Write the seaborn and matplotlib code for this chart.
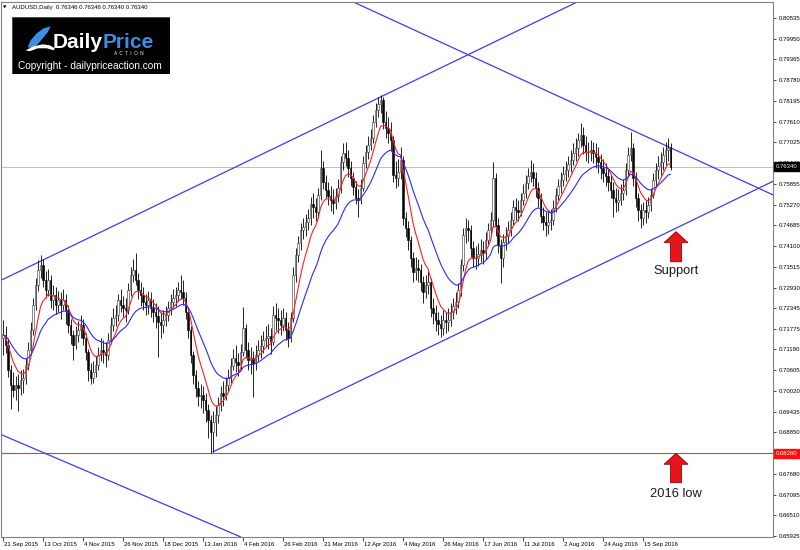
import numpy as np
import pandas as pd
import matplotlib
matplotlib.use("Agg")
import matplotlib.pyplot as plt
import matplotlib.transforms as mtransforms
from matplotlib.patches import Polygon, Rectangle
import seaborn as sns

# ---------------- data (prices in pips, /10000) ----------------
first_open_pips = 7150
closes_pips = [
    7160, 7132, 7062, 7019, 7005, 7019, 7011, 7033, 7039, 7076,
    7118, 7174, 7245, 7301, 7344, 7358, 7315, 7287, 7315, 7259,
    7273, 7245, 7259, 7245, 7259, 7231, 7188, 7160, 7132, 7160,
    7174, 7188, 7152, 7112, 7062, 7039, 7056, 7076, 7104, 7118,
    7112, 7104, 7146, 7188, 7208, 7217, 7259, 7245, 7236, 7231,
    7287, 7330, 7344, 7315, 7287, 7273, 7253, 7245, 7259, 7236,
    7225, 7214, 7197, 7188, 7203, 7217, 7236, 7253, 7265, 7273,
    7287, 7282, 7265, 7225, 7174, 7104, 7048, 7011, 6988, 6991,
    6977, 6949, 6921, 6887, 6915, 6935, 6963, 6997, 6988, 7019,
    7039, 7073, 7095, 7084, 7076, 7112, 7180, 7118, 7090, 7095,
    7081, 7104, 7118, 7129, 7146, 7152, 7158, 7141, 7217, 7208,
    7203, 7188, 7208, 7174, 7152, 7208, 7330, 7386, 7420, 7456,
    7465, 7479, 7490, 7530, 7521, 7507, 7555, 7631, 7592, 7569,
    7552, 7541, 7532, 7552, 7575, 7648, 7673, 7659, 7631, 7603,
    7578, 7547, 7541, 7575, 7645, 7676, 7696, 7716, 7761, 7795,
    7812, 7823, 7761, 7744, 7730, 7710, 7612, 7603, 7620, 7654,
    7490, 7462, 7428, 7377, 7338, 7349, 7344, 7310, 7282, 7301,
    7310, 7236, 7222, 7203, 7191, 7180, 7203, 7197, 7203, 7225,
    7242, 7253, 7287, 7358, 7442, 7462, 7456, 7406, 7377, 7377,
    7389, 7400, 7391, 7428, 7456, 7485, 7603, 7470, 7414, 7377,
    7423, 7440, 7456, 7485, 7521, 7513, 7507, 7541, 7561, 7589,
    7609, 7620, 7603, 7575, 7547, 7496, 7479, 7470, 7479, 7485,
    7518, 7555, 7580, 7597, 7614, 7626, 7642, 7654, 7673, 7688,
    7710, 7724, 7696, 7676, 7676, 7682, 7673, 7662, 7648, 7631,
    7617, 7609, 7592, 7569, 7547, 7535, 7541, 7561, 7569, 7626,
    7668, 7688, 7603, 7547, 7513, 7490, 7513, 7507, 7527, 7555,
    7597, 7626, 7637, 7648, 7668, 7682, 7688, 7634]
highs_pips = [
    7203, 7185, 7150, 7075, 7055, 7045, 7050, 7060, 7065, 7095,
    7140, 7195, 7265, 7320, 7370, 7386, 7375, 7340, 7345, 7330,
    7300, 7295, 7285, 7280, 7290, 7275, 7245, 7205, 7175, 7185,
    7200, 7215, 7205, 7165, 7120, 7080, 7085, 7100, 7125, 7150,
    7145, 7140, 7165, 7210, 7235, 7245, 7275, 7290, 7270, 7265,
    7305, 7350, 7375, 7392, 7335, 7310, 7295, 7275, 7285, 7280,
    7260, 7250, 7240, 7225, 7230, 7240, 7255, 7275, 7290, 7295,
    7310, 7330, 7315, 7280, 7235, 7185, 7115, 7060, 7030, 7020,
    7015, 6995, 6965, 6935, 6945, 6960, 6985, 7015, 7030, 7040,
    7065, 7095, 7120, 7130, 7110, 7135, 7239, 7190, 7140, 7125,
    7115, 7130, 7145, 7160, 7170, 7185, 7190, 7180, 7240, 7250,
    7235, 7230, 7235, 7225, 7195, 7225, 7350, 7405, 7440, 7475,
    7490, 7500, 7515, 7550, 7560, 7545, 7575, 7682, 7650, 7610,
    7590, 7580, 7570, 7575, 7600, 7665, 7700, 7705, 7680, 7650,
    7620, 7595, 7570, 7600, 7665, 7695, 7720, 7740, 7780, 7815,
    7830, 7837, 7830, 7790, 7775, 7760, 7720, 7650, 7655, 7690,
    7665, 7505, 7480, 7440, 7395, 7380, 7375, 7360, 7325, 7330,
    7340, 7320, 7265, 7245, 7225, 7215, 7230, 7225, 7235, 7250,
    7265, 7280, 7305, 7375, 7460, 7490, 7485, 7470, 7425, 7410,
    7420, 7430, 7425, 7450, 7475, 7505, 7648, 7615, 7490, 7430,
    7445, 7465, 7480, 7505, 7540, 7545, 7540, 7560, 7585, 7610,
    7630, 7654, 7645, 7620, 7590, 7560, 7520, 7505, 7510, 7515,
    7540, 7575, 7600, 7620, 7635, 7650, 7665, 7680, 7700, 7715,
    7730, 7758, 7745, 7720, 7705, 7710, 7705, 7700, 7690, 7670,
    7655, 7645, 7630, 7610, 7590, 7575, 7570, 7585, 7600, 7645,
    7690, 7733, 7700, 7620, 7560, 7530, 7535, 7540, 7550, 7575,
    7615, 7645, 7665, 7675, 7690, 7705, 7716, 7700]
lows_pips = [
    7104, 7110, 7040, 6950, 6985, 6975, 6945, 6990, 6995, 7020,
    7060, 7105, 7160, 7230, 7285, 7320, 7295, 7265, 7270, 7235,
    7230, 7220, 7225, 7205, 7230, 7190, 7165, 7135, 7090, 7120,
    7140, 7150, 7130, 7090, 7030, 7020, 7025, 7040, 7060, 7085,
    7080, 7070, 7090, 7135, 7170, 7185, 7200, 7225, 7210, 7195,
    7220, 7270, 7310, 7300, 7260, 7240, 7230, 7215, 7220, 7210,
    7195, 7180, 7098, 7150, 7165, 7185, 7200, 7215, 7235, 7240,
    7255, 7260, 7245, 7205, 7150, 7080, 7020, 6985, 6960, 6955,
    6940, 6915, 6870, 6827, 6830, 6875, 6910, 6945, 6960, 6975,
    7000, 7025, 7060, 7055, 7045, 7060, 7100, 7095, 7060, 7050,
    6985, 7060, 7085, 7095, 7110, 7125, 7120, 7105, 7130, 7175,
    7165, 7160, 7170, 7145, 7125, 7140, 7195, 7310, 7365, 7400,
    7430, 7440, 7455, 7470, 7490, 7480, 7490, 7540, 7570, 7545,
    7525, 7510, 7500, 7515, 7535, 7560, 7625, 7635, 7605, 7580,
    7555, 7530, 7493, 7530, 7565, 7630, 7655, 7680, 7700, 7745,
    7775, 7785, 7740, 7715, 7700, 7680, 7590, 7575, 7580, 7600,
    7470, 7435, 7400, 7350, 7310, 7315, 7310, 7285, 7250, 7265,
    7275, 7210, 7190, 7170, 7160, 7155, 7160, 7165, 7170, 7185,
    7205, 7220, 7235, 7270, 7340, 7420, 7425, 7380, 7350, 7345,
    7355, 7365, 7360, 7375, 7410, 7440, 7465, 7440, 7390, 7307,
    7350, 7400, 7420, 7440, 7470, 7485, 7480, 7495, 7525, 7545,
    7570, 7590, 7580, 7550, 7520, 7475, 7455, 7440, 7445, 7455,
    7470, 7505, 7540, 7560, 7580, 7595, 7605, 7620, 7640, 7650,
    7665, 7690, 7670, 7650, 7645, 7650, 7645, 7630, 7615, 7600,
    7590, 7580, 7565, 7545, 7493, 7505, 7510, 7525, 7540, 7555,
    7610, 7650, 7580, 7520, 7480, 7462, 7470, 7475, 7490, 7510,
    7545, 7580, 7600, 7610, 7625, 7640, 7650, 7625]

date_tick_bars = [0, 16, 32, 48, 64, 80, 96, 112, 128, 144, 160, 176, 192, 208, 224, 240, 256]
date_tick_labels = ["21 Sep 2015", "13 Oct 2015", "4 Nov 2015", "26 Nov 2015", "18 Dec 2015",
                    "13 Jan 2016", "4 Feb 2016", "26 Feb 2016", "21 Mar 2016", "12 Apr 2016",
                    "4 May 2016", "26 May 2016", "17 Jun 2016", "11 Jul 2016", "2 Aug 2016",
                    "24 Aug 2016", "15 Sep 2016"]
price_ticks = [0.80535, 0.79950, 0.79365, 0.78780, 0.78195, 0.77610, 0.77025, 0.76440,
               0.75855, 0.75270, 0.74685, 0.74100, 0.73515, 0.72930, 0.72345, 0.71775,
               0.71190, 0.70605, 0.70020, 0.69435, 0.68850, 0.67680, 0.67095, 0.66510,
               0.65925]

last_price = 0.76340
low_2016 = 0.68260
title_text = "AUDUSD,Daily  0.76346 0.76346 0.76340 0.76340"

# trend lines: two anchor points each (bar index, price)
channel_top_bars = [0, 200]
channel_top_prices = [0.73166, 0.79976]
support_bars = [84, 330]
support_prices = [0.68300, 0.76679]
resist_bars = [140.8, 274.8]
resist_prices = [0.80965, 0.76623]
lower_desc_bars = [-0.5, 94.8]
lower_desc_prices = [0.68780, 0.65910]

# annotation arrows
arrow_bar = [269.2, 269.2]
arrow_tip = [0.7451, 0.6826]
arrow_base = [0.7366, 0.6743]
arrow_labels = ["Support", "2016 low"]
arrow_label_prices = [0.7341, 0.6712]

# ---------------- build frame ----------------
closes = np.array(closes_pips) / 10000.0
highs = np.array(highs_pips) / 10000.0
lows = np.array(lows_pips) / 10000.0
opens = np.r_[first_open_pips / 10000.0, closes[:-1]]
bars = np.arange(len(closes))
df = pd.DataFrame({"bar": bars, "open": opens, "high": highs, "low": lows, "close": closes})
df["ma_fast"] = df["close"].ewm(span=8, adjust=False).mean()
df["ma_slow"] = df["close"].ewm(span=21, adjust=False).mean()

sns.set_theme(style="white")
plt.rcParams['font.family'] = ['Liberation Sans', 'DejaVu Sans']

W, H = 800, 550
fig = plt.figure(figsize=(8, 5.5), dpi=100)
fig.patch.set_facecolor("white")
ax = fig.add_axes([1 / W, 13 / H, 772 / W, 535 / H])
ax.set_facecolor("white")

px_per_bar = 2.5
x0_px = 3.0
ax.set_xlim((1 - x0_px) / px_per_bar, (773 - x0_px) / px_per_bar)
p_per_px = 1 / 3546.0
ax.set_ylim(0.80535 - (537 - 18) * p_per_px, 0.80535 + (18 - 2) * p_per_px)

# horizontal lines
ax.axhline(last_price, color="#c0c0c0", lw=0.7, zorder=1)
ax.axhline(low_2016, color="#ff3030", lw=0.8, zorder=1)

# trend lines
tl_color = "#3c3cf0"
ax.axline((channel_top_bars[0], channel_top_prices[0]), (channel_top_bars[1], channel_top_prices[1]),
          color=tl_color, lw=0.9, zorder=2)
ax.plot(support_bars, support_prices, color=tl_color, lw=0.9, zorder=2)
ax.axline((resist_bars[0], resist_prices[0]), (resist_bars[1], resist_prices[1]),
          color=tl_color, lw=0.9, zorder=2)
ax.axline((lower_desc_bars[0], lower_desc_prices[0]), (lower_desc_bars[1], lower_desc_prices[1]),
          color=tl_color, lw=0.9, zorder=2)

# candles
ax.vlines(df["bar"], df["low"], df["high"], color="black", lw=0.6, zorder=3)
up = df["close"] >= df["open"]
dn = ~up
body_w = 0.66
ax.bar(df["bar"][up], (df["close"] - df["open"])[up], bottom=df["open"][up], width=body_w,
       color="white", edgecolor="#303030", linewidth=0.4, zorder=4)
ax.bar(df["bar"][dn], (df["open"] - df["close"])[dn], bottom=df["close"][dn], width=body_w,
       color="black", edgecolor="black", linewidth=0.4, zorder=4)

# moving averages
sns.lineplot(data=df, x="bar", y="ma_fast", color="#ff2020", lw=0.8, ax=ax, zorder=5)
sns.lineplot(data=df, x="bar", y="ma_slow", color="#2a2aff", lw=0.8, ax=ax, zorder=5)
ax.set_xlabel("")
ax.set_ylabel("")

# arrows
head_len = 11 * p_per_px
head_half = 12 / px_per_bar
shaft_half = 5.5 / px_per_bar
for xb, tip, base in zip(arrow_bar, arrow_tip, arrow_base):
    hb = tip - head_len
    verts = [(xb, tip), (xb + head_half, hb), (xb + shaft_half, hb), (xb + shaft_half, base),
             (xb - shaft_half, base), (xb - shaft_half, hb), (xb - head_half, hb)]
    ax.add_patch(Polygon(verts, closed=True, facecolor="#e8141c", edgecolor="#8a0a0a",
                         lw=0.6, zorder=6, clip_on=False))
for xb, txt, yp in zip(arrow_bar, arrow_labels, arrow_label_prices):
    ax.text(xb, yp, txt, ha="center", va="center", fontsize=9.3, color="#1a1a1a", zorder=7)

# axes styling
for s in ax.spines.values():
    s.set_color("#808080")
    s.set_linewidth(0.8)
ax.yaxis.tick_right()
ax.set_yticks(price_ticks)
ax.set_yticklabels([f"{v:.5f}" for v in price_ticks])
ax.tick_params(axis="y", which="both", right=True, left=False, length=2.5, width=0.5,
               color="black", labelsize=4.3, pad=1.5, labelcolor="black")
ax.set_xticks(date_tick_bars)
ax.set_xticklabels(date_tick_labels)
ax.tick_params(axis="x", bottom=True, length=3, width=0.5, color="black",
               labelsize=4.3, pad=0.8, labelcolor="black")
offset = mtransforms.ScaledTranslation(1 / 100, 0, fig.dpi_scale_trans)
for lab in ax.get_xticklabels():
    lab.set_horizontalalignment("left")
    lab.set_transform(lab.get_transform() + offset)
ax.grid(False)

# price tags on right axis
blend = mtransforms.blended_transform_factory(ax.transAxes, ax.transData)
ax.text(1.003, last_price, f"{last_price:.5f}", transform=blend, ha="left", va="center",
        fontsize=4.3, color="white", zorder=8, clip_on=False,
        bbox=dict(boxstyle="square,pad=0.3", facecolor="black", edgecolor="black"))
ax.text(1.003, low_2016, f"{low_2016:.5f}", transform=blend, ha="left", va="center",
        fontsize=4.3, color="white", zorder=8, clip_on=False,
        bbox=dict(boxstyle="square,pad=0.3", facecolor="#ff1010", edgecolor="#ff1010"))

# title
fig.text(3 / W, 1 - 7.5 / H, "\u25BC", fontsize=3.2, color="black", va="center", ha="left",
         family=["DejaVu Sans"])
fig.text(12 / W, 1 - 7 / H, title_text, fontsize=4.3, color="black", va="center", ha="left")

# logo
lx0, ly0, lx1, ly1 = 11.7, 17.3, 170.0, 74.0
lax = fig.add_axes([lx0 / W, 1 - ly1 / H, (lx1 - lx0) / W, (ly1 - ly0) / H])
lw_, lh_ = lx1 - lx0, ly1 - ly0
lax.set_xlim(0, lw_)
lax.set_ylim(lh_, 0)
lax.axis("off")
lax.add_patch(Rectangle((0, 0), lw_, lh_, facecolor="black", edgecolor="#404040", lw=0.6))
wing = [(16, 30), (19, 23), (25, 16), (32, 11), (39, 9), (36, 15), (31, 21), (26, 27), (21, 31)]
lax.add_patch(Polygon(wing, closed=True, facecolor="#3a8fe6", edgecolor="none"))
swoosh = [(14, 33), (22, 29), (31, 27), (38, 28), (43, 31), (42, 33), (35, 31), (26, 31), (18, 34)]
lax.add_patch(Polygon(swoosh, closed=True, facecolor="white", edgecolor="none"))
lax.text(41.3, 30.7, "Daily", color="white", fontsize=15, fontweight="bold", va="baseline", ha="left")
lax.text(91.3, 30.7, "Price", color="#3b8ee0", fontsize=15, fontweight="bold", va="baseline", ha="left")
lax.text(117, 35.8, "A  C  T  I  O  N", color="white", fontsize=3.3, va="center", ha="center")
lax.text(78.5, 48.7, "Copyright - dailypriceaction.com", color="white", fontsize=7.3,
         va="center", ha="center")

fig.savefig("out.png", dpi=100)
